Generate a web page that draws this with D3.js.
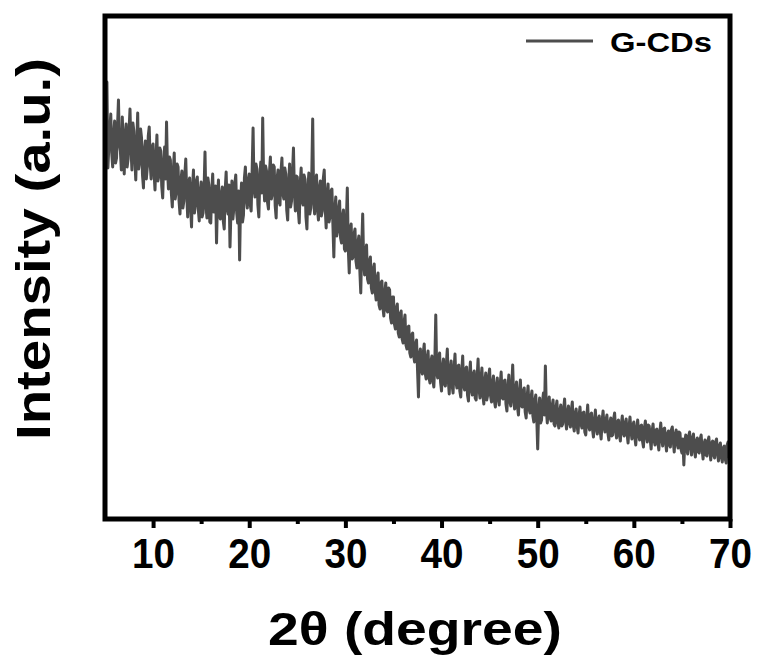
<!DOCTYPE html>
<html>
<head>
<meta charset="utf-8">
<script src="https://cdn.jsdelivr.net/npm/d3@7"></script>
<style>
  body { margin: 0; background: #fff; }
  text { font-family: "Liberation Sans", Arial, sans-serif; font-weight: bold; fill: #000; }
</style>
</head>
<body>
<svg id="chart" width="758" height="662"></svg>
<script>
// XRD scan, 2theta from 5 to 70 deg in 0.1 deg steps
var thetaStart = 5, thetaEnd = 70, thetaStep = 0.1;

// one row per degree (5.0 ... 5.9, 6.0 ... 6.9, ...), last value is 70.0
var intensity = [
  360, 395, 437, 351, 372, 389, 405, 366, 352, 384,
  398, 356, 361, 392, 419, 375, 368, 349, 402, 370,
  345, 384, 395, 352, 360, 388, 410, 371, 349, 396,
  388, 361, 339, 374, 406, 350, 357, 390, 381, 344,
  331, 369, 378, 340, 352, 383, 392, 355, 340, 372,
  375, 347, 329, 360, 384, 338, 343, 371, 368, 333,
  321, 355, 372, 340, 397, 349, 330, 362, 359, 326,
  312, 347, 366, 320, 327, 355, 352, 318, 305, 339,
  348, 311, 318, 344, 360, 325, 302, 337, 341, 313,
  292, 331, 349, 306, 315, 338, 342, 310, 298, 327,
  337, 302, 306, 329, 367, 314, 301, 341, 334, 297,
  296, 328, 345, 307, 310, 333, 276, 320, 339, 303,
  300, 325, 332, 298, 290, 329, 347, 311, 305, 334,
  272, 309, 338, 300, 311, 335, 344, 306, 296, 328,
  259, 318, 336, 297, 304, 341, 352, 320, 311, 339,
  345, 315, 308, 347, 391, 330, 322, 355, 350, 314,
  302, 341, 357, 326, 401, 338, 318, 353, 348, 317,
  310, 346, 362, 320, 325, 354, 352, 313, 301, 341,
  349, 318, 314, 347, 361, 325, 320, 351, 345, 309,
  299, 337, 355, 312, 318, 346, 371, 326, 308, 343,
  342, 309, 296, 335, 351, 318, 314, 344, 340, 302,
  290, 331, 346, 305, 311, 342, 400, 318, 305, 339,
  344, 310, 299, 331, 338, 303, 308, 340, 349, 312,
  291, 324, 335, 297, 302, 328, 330, 295, 262, 309,
  322, 283, 288, 310, 318, 281, 276, 303, 309, 270,
  268, 297, 331, 271, 246, 290, 295, 260, 262, 285,
  290, 258, 251, 276, 283, 249, 226, 272, 305, 257,
  244, 265, 274, 240, 236, 258, 262, 231, 226, 250,
  255, 228, 219, 241, 246, 214, 210, 236, 238, 212,
  203, 226, 236, 209, 207, 231, 229, 201, 196, 222,
  222, 195, 190, 211, 215, 186, 182, 205, 208, 180,
  176, 197, 204, 174, 170, 192, 193, 166, 162, 184,
  186, 163, 157, 175, 179, 150, 122, 165, 170, 149,
  145, 166, 175, 146, 140, 161, 168, 141, 136, 158,
  163, 139, 132, 156, 204, 146, 141, 160, 166, 137,
  128, 152, 160, 135, 133, 155, 170, 139, 125, 149,
  158, 134, 126, 150, 165, 137, 131, 153, 154, 128,
  122, 147, 163, 133, 129, 150, 152, 124, 118, 143,
  157, 129, 124, 145, 148, 121, 119, 141, 160, 130,
  121, 140, 151, 124, 115, 138, 146, 119, 124, 142,
  150, 123, 117, 136, 143, 118, 112, 133, 141, 120,
  114, 135, 147, 121, 120, 138, 139, 115, 108, 131,
  144, 118, 113, 132, 154, 120, 110, 129, 137, 112,
  104, 126, 139, 113, 112, 128, 131, 107, 101, 122,
  133, 110, 106, 121, 128, 103,  97, 118, 124, 102,
   70, 108, 121,  96,  99, 117, 126, 104, 153, 109,
   96, 114, 122, 101,  98, 113, 119,  95,  93, 111,
  118,  97,  91, 108, 114,  93,  95, 110, 120,  99,
   90, 106, 113,  96,  92, 109, 117,  94,  88, 105,
  110,  93,  86, 103, 112,  95,  91, 106, 107,  87,
   84, 101, 114,  93,  89, 104, 106,  90,  82,  97,
  109,  91,  85, 100, 103,  88,  80,  98, 108,  92,
   87,  99, 104,  86,  79,  96, 101,  83,  84, 100,
  106,  89,  81,  97,  99,  84,  78,  95, 103,  86,
   83,  96, 100,  85,  76,  92, 102,  88,  80,  94,
   97,  82,  74,  90,  99,  85,  79,  93,  94,  78,
   72,  91,  98,  83,  77,  94,  93,  80,  70,  88,
   95,  79,  74,  89,  90,  76,  69,  86,  96,  81,
   73,  90,  91,  77,  68,  85,  88,  74,  72,  89,
   92,  78,  67,  84,  89,  75,  71,  87,  86,  70,
   66,  80,  54,  77,  84,  70,  65,  83,  87,  73,
   64,  81,  85,  69,  62,  78,  81,  67,  66,  80,
   84,  70,  60,  75,  79,  64,  63,  78,  82,  68,
   59,  76,  78,  64,  61,  77,  80,  66,  58,  73,
   76,  62,  57,  71,  73,  60,  56,  74,  77,  63,
   60
];

var xTicks = [10, 20, 30, 40, 50, 60, 70];
var xMinorTicks = [15, 25, 35, 45, 55, 65];
var seriesName = "G-CDs";

var margin = {left: 105, right: 730, top: 16, bottom: 519};

var data = intensity.map(function(v, i) {
  return {x: thetaStart + i * thetaStep, y: v};
});

var x = d3.scaleLinear()
    .domain([thetaStart, thetaEnd])
    .range([margin.left, margin.right]);

var y = d3.scaleLinear()
    .domain([0, 503])
    .range([margin.bottom, margin.top]);

var svg = d3.select("#chart");

var line = d3.line()
    .x(function(d) { return x(d.x); })
    .y(function(d) { return y(d.y); });

svg.append("path")
    .datum(data)
    .attr("fill", "none")
    .attr("stroke", "#4d4d4d")
    .attr("stroke-width", 3)
    .attr("stroke-linejoin", "round")
    .attr("d", line);

// frame
svg.append("rect")
    .attr("x", margin.left)
    .attr("y", margin.top)
    .attr("width", margin.right - margin.left)
    .attr("height", margin.bottom - margin.top)
    .attr("fill", "none")
    .attr("stroke", "#000")
    .attr("stroke-width", 5);

// bottom axis: major + minor ticks, the frame is the axis line
var xAxis = svg.append("g")
    .attr("transform", "translate(0," + margin.bottom + ")")
    .call(d3.axisBottom(x).tickValues(xTicks).tickSize(9).tickPadding(10).tickFormat(d3.format("d")));
xAxis.select(".domain").remove();
xAxis.selectAll(".tick line").attr("stroke", "#000").attr("stroke-width", 4);
xAxis.selectAll(".tick text")
    .attr("font-size", 42)
    .attr("textLength", 43)
    .attr("lengthAdjust", "spacingAndGlyphs")
    .attr("fill", "#000")
    .style("font-family", "'Liberation Sans', Arial, sans-serif")
    .style("font-weight", "bold");

var xMinor = svg.append("g")
    .attr("transform", "translate(0," + margin.bottom + ")")
    .call(d3.axisBottom(x).tickValues(xMinorTicks).tickSize(5).tickFormat(""));
xMinor.select(".domain").remove();
xMinor.selectAll(".tick line").attr("stroke", "#000").attr("stroke-width", 4);

// axis titles
svg.append("text")
    .attr("x", 415)
    .attr("y", 645)
    .attr("text-anchor", "middle")
    .attr("font-size", 46)
    .attr("textLength", 294)
    .attr("lengthAdjust", "spacingAndGlyphs")
    .text("2θ (degree)");

svg.append("text")
    .attr("transform", "translate(50,249)rotate(-90)")
    .attr("text-anchor", "middle")
    .attr("font-size", 49)
    .attr("textLength", 382)
    .attr("lengthAdjust", "spacingAndGlyphs")
    .text("Intensity (a.u.)");

// legend
svg.append("line")
    .attr("x1", 526)
    .attr("x2", 593)
    .attr("y1", 41)
    .attr("y2", 41)
    .attr("stroke", "#4d4d4d")
    .attr("stroke-width", 3);

svg.append("text")
    .attr("x", 610)
    .attr("y", 52)
    .attr("font-size", 28)
    .attr("textLength", 102)
    .attr("lengthAdjust", "spacingAndGlyphs")
    .text(seriesName);
</script>
</body>
</html>
